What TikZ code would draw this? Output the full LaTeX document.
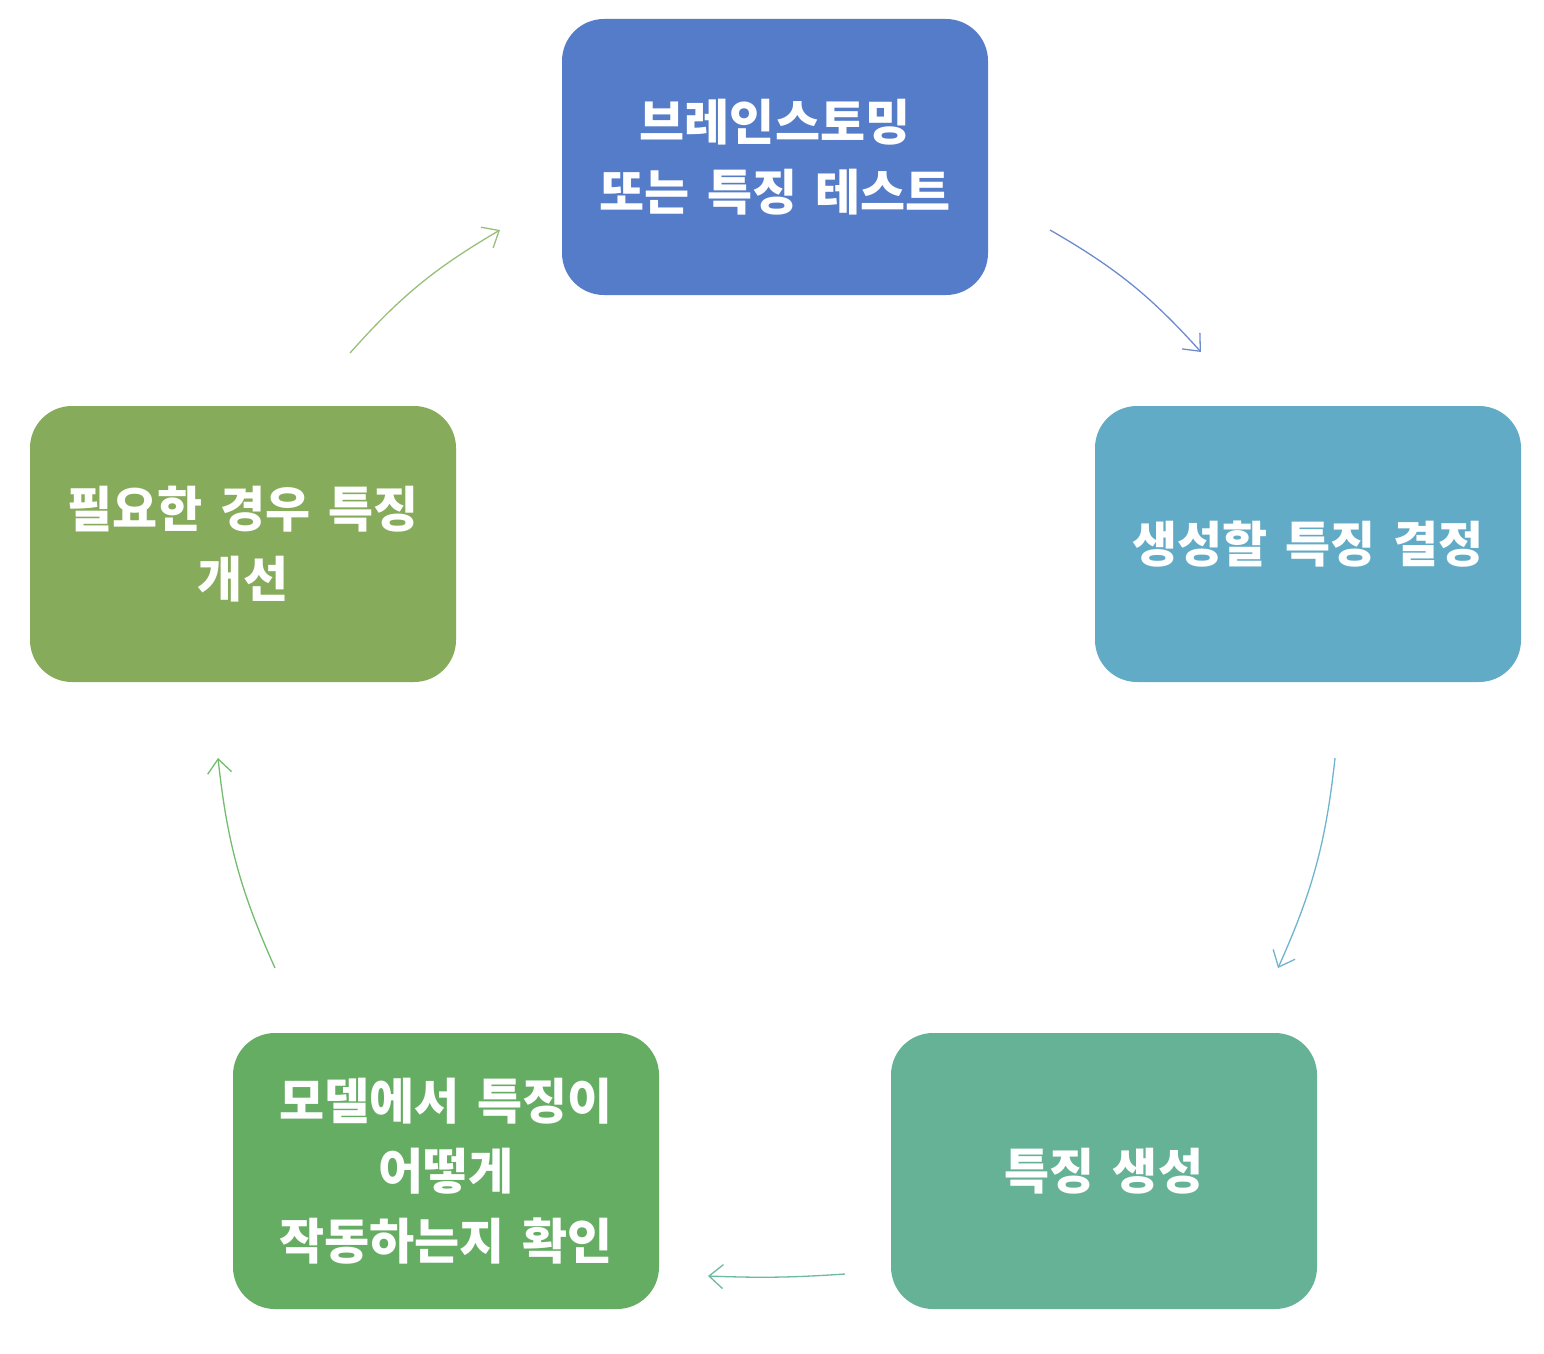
\documentclass[tikz,border=0pt]{standalone}
\usepackage{fontspec}
\setmainfont{Noto Sans CJK KR}[WordSpace=1.6]
\usetikzlibrary{arrows.meta}
\definecolor{cTop}{HTML}{547CC8}
\definecolor{cRight}{HTML}{62ABC6}
\definecolor{cBR}{HTML}{65B297}
\definecolor{cBL}{HTML}{66AD64}
\definecolor{cLeft}{HTML}{86AB5B}
\definecolor{aTop}{HTML}{6E8CCD}
\definecolor{aRight}{HTML}{6FB5CE}
\definecolor{aBR}{HTML}{6EBA9F}
\definecolor{aBL}{HTML}{74BD70}
\definecolor{aLeft}{HTML}{98C07A}
\tikzset{
  stepbox/.style={rounded corners=42pt, minimum width=426pt, minimum height=276pt,
    text=white, font=\fontsize{49}{70}\selectfont\bfseries, align=center, inner sep=0pt},
  flow/.style={line width=1.3pt, -{Straight Barb[length=14pt, width=24pt, line width=1.3pt]}},
}
\begin{document}
\begin{tikzpicture}[x=1pt, y=-1pt]
\useasboundingbox (0,0) rectangle (1544,1354);
\fill[white] (0,0) rectangle (1544,1354);
\node[stepbox, fill=cTop] (top) at (775,157) {브레인스토밍\\또는 특징 테스트};
\node[stepbox, fill=cRight] (right) at (1308,544) {생성할 특징 결정};
\node[stepbox, fill=cBR] (br) at (1104,1171) {특징 생성};
\node[stepbox, fill=cBL] (bl) at (446,1171) {모델에서 특징이\\어떻게\\작동하는지 확인};
\node[stepbox, fill=cLeft] (left) at (243,544) {필요한 경우 특징\\개선};
\coordinate (a1s) at (1050,230);
\coordinate (a1e) at (1201,352);
\coordinate (a2s) at (1335,758);
\coordinate (a2e) at (1278,968);
\coordinate (a3s) at (845,1274);
\coordinate (a3e) at (708,1276);
\coordinate (a4s) at (275,968);
\coordinate (a4e) at (218,758);
\coordinate (a5s) at (350,353);
\coordinate (a5e) at (500,230);
\draw[flow, aTop] (a1s) to[bend left=9] (a1e);
\draw[flow, aRight] (a2s) to[bend left=9] (a2e);
\draw[flow, aBR] (a3s) to[bend left=3] (a3e);
\draw[flow, aBL] (a4s) to[bend left=9] (a4e);
\draw[flow, aLeft] (a5s) to[bend left=9] (a5e);
\end{tikzpicture}
\end{document}
